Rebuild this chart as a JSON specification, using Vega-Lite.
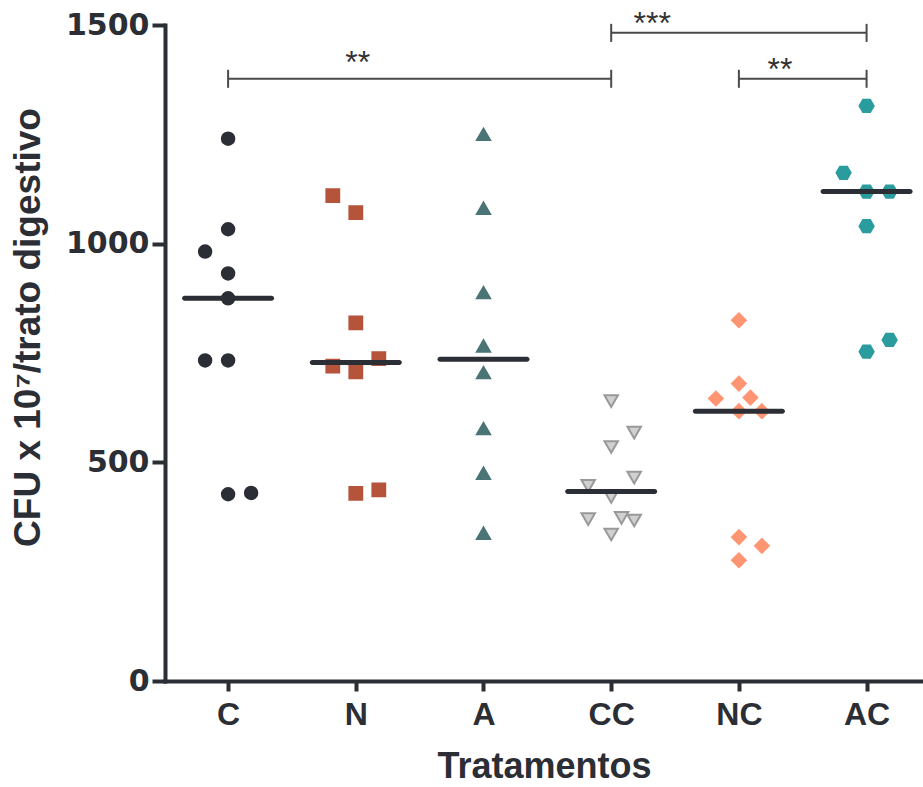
{
  "$schema": "https://vega.github.io/schema/vega-lite/v6.json",
  "width": 758,
  "height": 656,
  "autosize": "none",
  "padding": {"left": 165, "top": 25, "right": 0, "bottom": 106},
  "background": "white",
  "config": {
    "view": {"stroke": null},
    "axis": {
      "grid": false,
      "domainColor": "#2b2e34",
      "domainWidth": 4,
      "domainCap": "square",
      "tickColor": "#2b2e34",
      "tickWidth": 4,
      "labelFont": "Liberation Sans",
      "labelFontWeight": "bold",
      "labelColor": "#2b2e34",
      "titleFont": "Liberation Sans",
      "titleFontWeight": "bold",
      "titleColor": "#2b2e34"
    },
    "axisY": {"labelFont": "DejaVu Sans", "labelFontSize": 30, "tickSize": 13, "labelPadding": 3, "titleFontSize": 37, "titlePadding": 18, "titleY": 302},
    "axisX": {"labelFontSize": 32, "tickSize": 10, "labelPadding": 8, "titleFontSize": 36, "titlePadding": 19, "labelAngle": 0}
  },
  "datasets": {
    "pontos": [
      {"grupo": "C", "col": 0, "cfu": 1240},
      {"grupo": "C", "col": 0, "cfu": 1033},
      {"grupo": "C", "col": -1, "cfu": 982},
      {"grupo": "C", "col": 0, "cfu": 932},
      {"grupo": "C", "col": 0, "cfu": 875},
      {"grupo": "C", "col": -1, "cfu": 733},
      {"grupo": "C", "col": 0, "cfu": 733},
      {"grupo": "C", "col": 0, "cfu": 427},
      {"grupo": "C", "col": 1, "cfu": 430},
      {"grupo": "N", "col": -1, "cfu": 1110},
      {"grupo": "N", "col": 0, "cfu": 1071},
      {"grupo": "N", "col": 0, "cfu": 819},
      {"grupo": "N", "col": -1, "cfu": 720},
      {"grupo": "N", "col": 0, "cfu": 707},
      {"grupo": "N", "col": 1, "cfu": 737},
      {"grupo": "N", "col": 0, "cfu": 429},
      {"grupo": "N", "col": 1, "cfu": 437},
      {"grupo": "A", "col": 0, "cfu": 1250},
      {"grupo": "A", "col": 0, "cfu": 1081},
      {"grupo": "A", "col": 0, "cfu": 888},
      {"grupo": "A", "col": 0, "cfu": 766},
      {"grupo": "A", "col": 0, "cfu": 705},
      {"grupo": "A", "col": 0, "cfu": 577},
      {"grupo": "A", "col": 0, "cfu": 475},
      {"grupo": "A", "col": 0, "cfu": 338},
      {"grupo": "CC", "col": 0, "cfu": 640},
      {"grupo": "CC", "col": 1, "cfu": 568},
      {"grupo": "CC", "col": 0, "cfu": 535},
      {"grupo": "CC", "col": 1, "cfu": 465},
      {"grupo": "CC", "col": -1, "cfu": 446},
      {"grupo": "CC", "col": 0, "cfu": 421},
      {"grupo": "CC", "col": -1, "cfu": 370},
      {"grupo": "CC", "col": 0.45, "cfu": 373},
      {"grupo": "CC", "col": 1, "cfu": 367},
      {"grupo": "CC", "col": 0, "cfu": 335},
      {"grupo": "NC", "col": 0, "cfu": 825},
      {"grupo": "NC", "col": 0, "cfu": 680},
      {"grupo": "NC", "col": -1, "cfu": 646},
      {"grupo": "NC", "col": 0.5, "cfu": 648},
      {"grupo": "NC", "col": 0, "cfu": 617},
      {"grupo": "NC", "col": 1, "cfu": 617},
      {"grupo": "NC", "col": 0, "cfu": 329},
      {"grupo": "NC", "col": 1, "cfu": 309},
      {"grupo": "NC", "col": 0, "cfu": 276},
      {"grupo": "AC", "col": 0, "cfu": 1315},
      {"grupo": "AC", "col": -1, "cfu": 1162},
      {"grupo": "AC", "col": 0, "cfu": 1119},
      {"grupo": "AC", "col": 1, "cfu": 1119},
      {"grupo": "AC", "col": 0, "cfu": 1040},
      {"grupo": "AC", "col": 1, "cfu": 780},
      {"grupo": "AC", "col": 0, "cfu": 753}
    ],
    "chaves": [
      {"grupo": "C", "ate": "CC", "nivel": 1377},
      {"grupo": "CC", "ate": "AC", "nivel": 1482},
      {"grupo": "NC", "ate": "AC", "nivel": 1377}
    ],
    "estrelas": [
      {"grupo": "N", "nivel": 1391, "texto": "**"},
      {"grupo": "CC", "nivel": 1480, "texto": "***"},
      {"grupo": "NC", "nivel": 1375, "texto": "**"}
    ]
  },
  "layer": [
    {
      "data": {"name": "pontos"},
      "mark": {"type": "point", "filled": true, "strokeWidth": 2, "opacity": 1},
      "encoding": {
        "x": {"field": "grupo", "type": "nominal", "title": "Tratamentos",
          "scale": {"type": "point", "domain": ["C", "N", "A", "CC", "NC", "AC"], "padding": 0.468, "align": 0.528}},
        "xOffset": {"field": "col", "type": "quantitative", "scale": {"domain": [-1, 1], "range": [-23, 23]}},
        "y": {"field": "cfu", "type": "quantitative", "title": "CFU x 10⁷/trato digestivo",
          "scale": {"domain": [0, 1500], "nice": false}, "axis": {"values": [0, 500, 1000, 1500], "format": "d"}},
        "shape": {"field": "grupo", "type": "nominal", "legend": null,
          "scale": {"domain": ["C", "N", "A", "CC", "NC", "AC"],
            "range": ["circle", "square", "triangle-up", "triangle-down", "diamond", "M-1,0L-0.5,-0.866L0.5,-0.866L1,0L0.5,0.866L-0.5,0.866Z"]}},
        "fill": {"field": "grupo", "type": "nominal", "legend": null,
          "scale": {"domain": ["C", "N", "A", "CC", "NC", "AC"],
            "range": ["#2b2e34", "#b5533b", "#4b7477", "#d0d0d0", "#ff9572", "#2a9c9e"]}},
        "stroke": {"field": "grupo", "type": "nominal", "legend": null,
          "scale": {"domain": ["C", "N", "A", "CC", "NC", "AC"],
            "range": ["#2b2e34", "#b5533b", "#4b7477", "#999999", "#ff9572", "#2a9c9e"]}},
        "size": {"field": "grupo", "type": "nominal", "legend": null,
          "scale": {"domain": ["C", "N", "A", "CC", "NC", "AC"],
            "range": [155, 200, 200, 260, 289, 175]}}
      }
    },
    {
      "data": {"name": "pontos"},
      "mark": {"type": "tick", "color": "#2b2e34", "size": 92, "thickness": 5, "cornerRadius": 2.5, "opacity": 1},
      "encoding": {
        "x": {"field": "grupo", "type": "nominal", "title": "Tratamentos"},
        "y": {"aggregate": "median", "field": "cfu", "type": "quantitative", "title": "CFU x 10⁷/trato digestivo"}
      }
    },
    {
      "data": {"name": "chaves"},
      "mark": {"type": "rule", "color": "#4a4a4a", "strokeWidth": 2},
      "encoding": {
        "x": {"field": "grupo", "type": "nominal", "title": "Tratamentos"},
        "x2": {"field": "ate"},
        "y": {"field": "nivel", "type": "quantitative", "title": "CFU x 10⁷/trato digestivo"}
      }
    },
    {
      "data": {"name": "chaves"},
      "transform": [{"fold": ["grupo", "ate"], "as": ["lado", "ponta"]}],
      "mark": {"type": "tick", "orient": "vertical", "color": "#4a4a4a", "thickness": 2, "size": 18, "opacity": 1},
      "encoding": {
        "x": {"field": "ponta", "type": "nominal", "title": "Tratamentos"},
        "y": {"field": "nivel", "type": "quantitative", "title": "CFU x 10⁷/trato digestivo"}
      }
    },
    {
      "data": {"name": "estrelas"},
      "transform": [{"filter": "datum.grupo === 'N'"}],
      "mark": {"type": "text", "font": "Liberation Sans", "fontSize": 32, "color": "#333333", "baseline": "alphabetic", "dx": 2},
      "encoding": {
        "x": {"field": "grupo", "type": "nominal", "title": "Tratamentos"},
        "y": {"field": "nivel", "type": "quantitative", "title": "CFU x 10⁷/trato digestivo"},
        "text": {"field": "texto"}
      }
    },
    {
      "data": {"name": "estrelas"},
      "transform": [{"filter": "datum.grupo !== 'N'"}],
      "mark": {"type": "text", "font": "Liberation Sans", "fontSize": 32, "color": "#333333", "baseline": "alphabetic", "dx": 41},
      "encoding": {
        "x": {"field": "grupo", "type": "nominal", "title": "Tratamentos"},
        "y": {"field": "nivel", "type": "quantitative", "title": "CFU x 10⁷/trato digestivo"},
        "text": {"field": "texto"}
      }
    }
  ]
}
